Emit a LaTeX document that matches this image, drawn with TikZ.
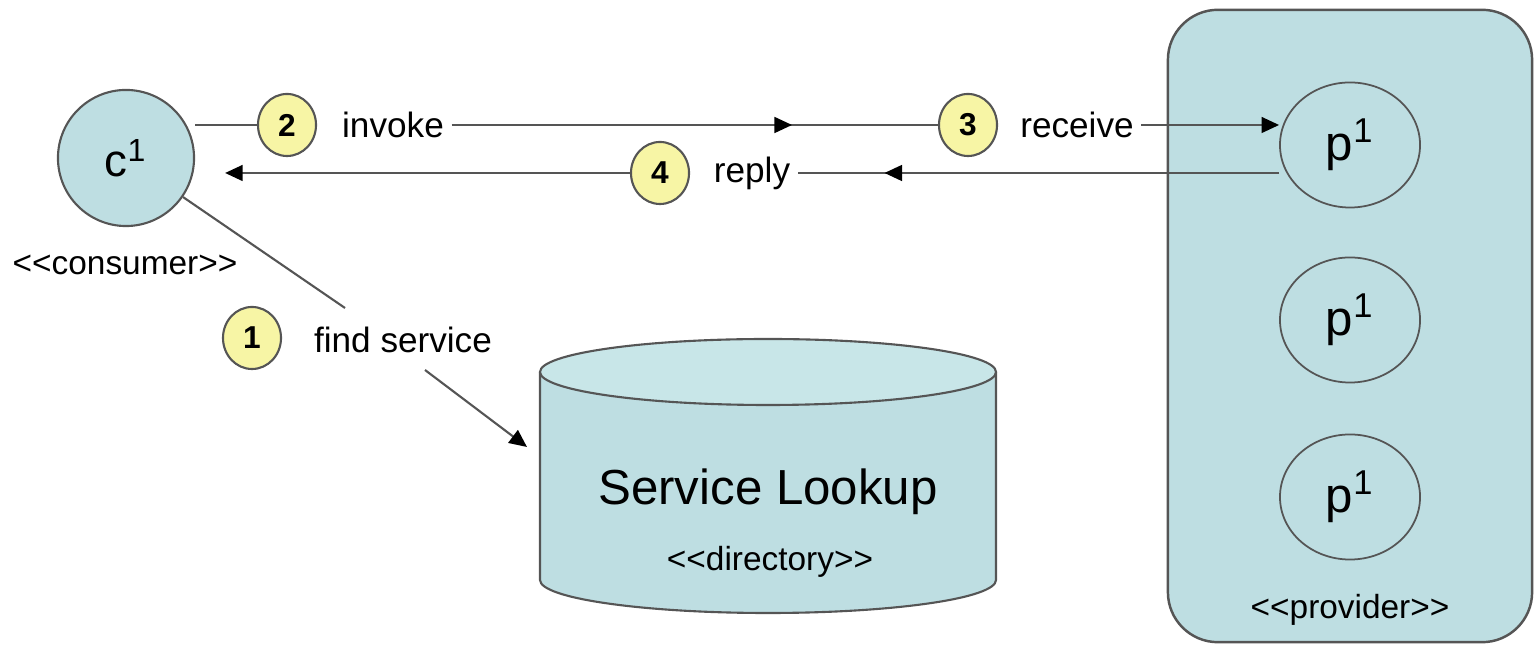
\documentclass[tikz,border=0pt]{standalone}
\usepackage{fontspec}
\setmainfont{Liberation Sans}[Ligatures=TeXOff]
\usetikzlibrary{arrows.meta,shapes.geometric,decorations.markings,positioning}

\definecolor{partyblue}{HTML}{BEDEE2}
\definecolor{lidblue}{HTML}{C8E6E8}
\definecolor{stepyellow}{HTML}{F7F5A5}
\definecolor{edgegray}{HTML}{555555}

\tikzset{
  party/.style={circle, draw=edgegray, line width=0.6pt, fill=partyblue, minimum size=1.36cm, inner sep=0pt, font=\fontsize{13}{13}\selectfont},
  worker/.style={ellipse, draw=edgegray, line width=0.5pt, minimum width=1.4cm, minimum height=1.25cm, inner sep=0pt, font=\fontsize{14}{14}\selectfont},
  stepnum/.style={ellipse, draw=edgegray, line width=0.6pt, fill=stepyellow, minimum width=0.58cm, minimum height=0.62cm, inner sep=0pt, font=\fontsize{9}{9}\selectfont\bfseries},
  msg/.style={font=\fontsize{10}{10}\selectfont, inner sep=2pt},
  stereo/.style={font=\fontsize{9.5}{9.5}\selectfont, inner sep=1pt},
  flow/.style={draw=edgegray, line width=0.6pt},
  tipend/.style={-{Triangle[length=5pt,width=4.5pt,color=black]}},
  midtip/.style={postaction={decorate}, decoration={markings, mark=at position #1 with {\arrow{Triangle[length=5pt,width=4.5pt,color=black]}}}},
  container/.style={draw=edgegray, line width=0.7pt, fill=partyblue, rounded corners=0.5cm, minimum width=3.64cm, minimum height=6.32cm},
}

\begin{document}
\begin{tikzpicture}[x=0.01cm, y=0.01cm]
  \useasboundingbox (0,0) rectangle (1534,646);

  % provider side
  \node[container] (prov) at (1350,320) {};
  \node[stereo] (provl) at (1350,36) {<<provider>>};
  \node[worker] (pa) at (1350,501) {p\textsuperscript{1}};
  \node[worker] (pb) at (1350,326) {p\textsuperscript{1}};
  \node[worker] (pc) at (1350,149) {p\textsuperscript{1}};

  % service lookup cylinder
  \fill[partyblue] (540,274) -- (540,66) arc[start angle=180, end angle=360, x radius=228, y radius=33]
    -- (996,274) arc[start angle=0, end angle=180, x radius=228, y radius=33] -- cycle;
  \draw[flow] (540,274) -- (540,66) arc[start angle=180, end angle=360, x radius=228, y radius=33] -- (996,274);
  \draw[flow, fill=lidblue] (768,274) ellipse[x radius=228, y radius=33];
  \node[font=\fontsize{14}{14}\selectfont] (lookup) at (768,154) {Service Lookup};
  \node[stereo] (lookupl) at (770,84) {<<directory>>};
  \coordinate (lookupin) at (527,199);

  % consumer
  \node[party] (cons) at (126,488) {c\textsuperscript{1}};
  \node[stereo] (consl) at (125,381) {<<consumer>>};

  % steps
  \node[stepnum] (s1) at (252,308) {1};
  \node[msg] (find) at (403,306) {find service};
  \node[stepnum] (s2) at (287,521) {2};
  \node[msg] (invoke) at (393,521) {invoke};
  \node[stepnum] (s3) at (968,521) {3};
  \node[msg] (receive) at (1077,521) {receive};
  \node[stepnum] (s4) at (660,473) {4};
  \node[msg] (reply) at (752,473) {reply};
  \coordinate (findin) at (345,338);
  \coordinate (findout) at (425,276);

  % connectors
  \draw[flow] (s2.west) -- (s2.west -| cons.east);
  \draw[flow, midtip=0.7] (invoke.east) -- (s3.west);
  \draw[flow, tipend] (receive.east) -- (receive.east -| pa.west);
  \draw[flow, midtip=0.82] (reply.east -| pa.west) -- (reply.east);
  \draw[flow, tipend, shorten >=0.3cm] (s4.west) -- (s4.west -| cons.east);
  \draw[flow] (cons) -- (findin);
  \draw[flow, tipend] (findout) -- (lookupin);
\end{tikzpicture}
\end{document}
